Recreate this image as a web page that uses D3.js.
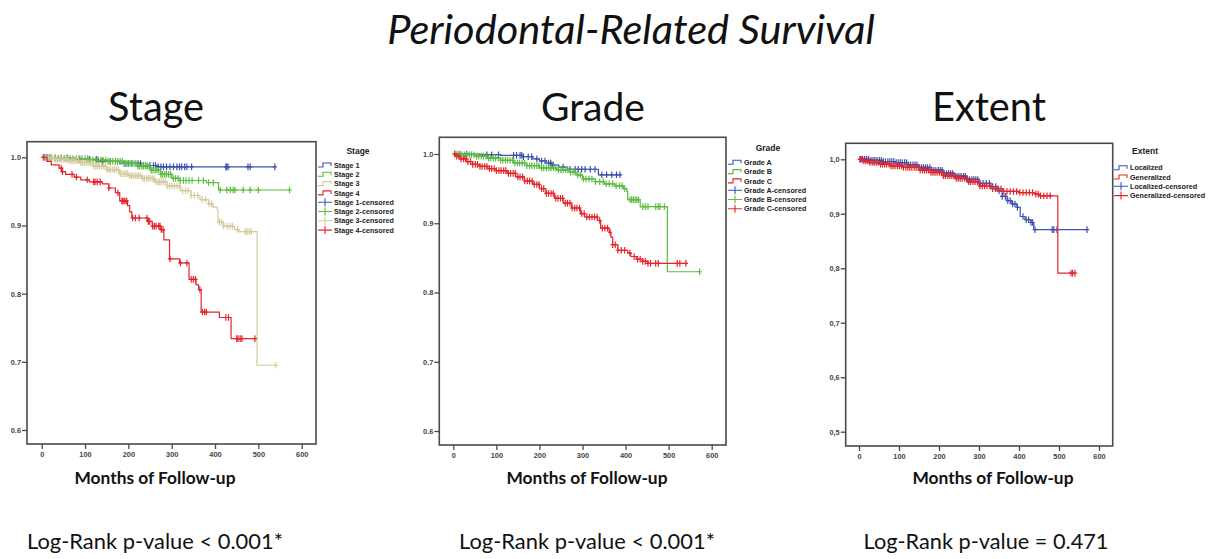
<!DOCTYPE html>
<html>
<head>
<meta charset="utf-8">
<script src="https://cdn.jsdelivr.net/npm/d3@7"></script>
<style>
  html, body { margin: 0; padding: 0; background: #fff; }
  svg { display: block; }
</style>
</head>
<body>
<svg id="chart" width="1215" height="559"></svg>
<script>
'use strict';

// ---- data: Kaplan-Meier steps as [month, survival after step], censored months ----
const months_ticks = [0, 100, 200, 300, 400, 500, 600];

const stage_names = ['Stage 1', 'Stage 2', 'Stage 3', 'Stage 4'];
const stage1_steps = [[25,0.999],[80,0.997],[130,0.994],[180,0.991],[230,0.988],[265,0.986]];
const stage2_steps = [[15,0.999],[60,0.998],[110,0.996],[150,0.994],[190,0.991],[220,0.987],[250,0.981],[275,0.975],[300,0.969],[320,0.966],[380,0.963],[408,0.952]];
const stage3_steps = [[10,0.999],[30,0.997],[60,0.995],[90,0.992],[120,0.987],[150,0.982],[180,0.976],[200,0.973],[230,0.969],[260,0.964],[290,0.958],[320,0.951],[345,0.944],[365,0.938],[385,0.932],[395,0.927],[405,0.922],[407,0.905],[420,0.899],[445,0.894],[455,0.891],[497,0.695]];
const stage4_steps = [[12,0.994],[22,0.989],[40,0.984],[46,0.979],[55,0.975],[75,0.971],[90,0.967],[110,0.964],[140,0.961],[155,0.955],[170,0.948],[180,0.936],[198,0.929],[203,0.920],[208,0.911],[245,0.906],[255,0.899],[275,0.894],[282,0.879],[295,0.851],[318,0.845],[340,0.821],[356,0.813],[362,0.806],[368,0.773],[410,0.765],[437,0.734]];
const stage_ends = [538, 572, 540, 492];
const stage1_censored = [5,12,19,31,45,60,88,110,127,140,158,175,192,200,208,222,228,235,240,250,258,263,269,275,281,288,296,304,312,318,323,330,335,346,425,427,430,476,481,538];
const stage2_censored = [8,15,22,30,38,45,52,58,66,72,80,86,93,100,106,112,118,125,131,137,142,148,153,158,164,170,175,181,186,190,195,199,204,208,213,217,222,226,231,235,240,244,248,253,257,262,266,270,275,279,284,288,293,298,304,309,315,320,327,333,340,347,362,373,385,396,412,427,435,442,446,465,481,500,572];
const stage3_censored = [3,7,11,16,20,24,29,33,37,42,46,51,55,59,63,68,72,77,81,85,90,94,98,103,107,112,116,120,125,129,133,138,142,146,151,155,159,164,168,172,177,181,185,190,194,198,203,207,211,216,220,224,229,233,237,242,246,250,255,259,263,268,272,276,281,285,290,295,300,306,312,318,325,332,338,345,352,360,370,378,386,392,410,415,420,428,434,440,452,470,474,479,484,540];
const stage4_censored = [5,45,48,70,80,105,120,123,128,135,155,176,185,187,190,192,196,210,216,225,243,246,249,256,260,264,270,273,276,280,296,320,335,345,350,355,365,371,376,380,425,431,450,453,458,462,492];

const grade_names = ['Grade A', 'Grade B', 'Grade C'];
const gradeA_steps = [[60,0.999],[110,0.998],[160,0.996],[185,0.993],[200,0.990],[215,0.987],[228,0.984],[245,0.981],[265,0.978],[337,0.970]];
const gradeB_steps = [[20,0.999],[50,0.997],[80,0.994],[110,0.991],[140,0.987],[170,0.983],[200,0.980],[240,0.977],[270,0.974],[285,0.970],[300,0.964],[330,0.960],[350,0.957],[375,0.954],[395,0.950],[403,0.946],[405,0.934],[434,0.924],[497,0.830]];
const gradeC_steps = [[5,0.997],[15,0.993],[30,0.989],[45,0.985],[60,0.982],[80,0.979],[100,0.976],[125,0.972],[145,0.967],[165,0.961],[185,0.956],[200,0.950],[215,0.943],[235,0.936],[255,0.929],[275,0.922],[295,0.914],[305,0.909],[335,0.904],[342,0.893],[362,0.887],[366,0.880],[370,0.869],[382,0.861],[405,0.857],[412,0.852],[425,0.848],[440,0.845],[452,0.842]];
const grade_ends = [390, 572, 542];
const gradeA_censored = [15,31,78,89,105,140,147,155,159,163,174,182,194,205,213,221,226,229,232,255,271,283,290,298,306,318,329,345,356,368,379,387];
const gradeB_censored = [4,9,14,20,26,31,37,42,48,54,59,65,70,76,82,87,93,98,104,110,115,121,126,132,138,143,149,154,160,166,171,177,182,188,194,199,205,210,216,222,227,233,238,244,250,255,261,266,272,278,283,289,295,302,308,315,322,330,340,348,355,362,370,378,386,392,398,410,414,418,422,426,430,440,446,452,470,476,480,490,572];
const gradeC_censored = [3,8,13,18,24,29,34,40,45,51,56,62,67,73,78,84,89,95,100,106,111,117,122,128,133,139,144,150,155,161,166,172,177,183,188,194,199,205,210,216,221,227,232,238,243,249,254,260,265,271,276,282,287,293,298,304,310,316,322,328,334,340,346,352,358,364,370,376,382,390,398,410,420,428,434,440,446,452,458,470,476,520,526,540];

const extent_names = ['Localized', 'Generalized'];
const local_steps = [[30,0.998],[60,0.996],[90,0.994],[120,0.990],[150,0.985],[180,0.980],[210,0.974],[240,0.969],[270,0.963],[300,0.956],[330,0.950],[345,0.942],[358,0.932],[370,0.924],[382,0.918],[395,0.912],[403,0.895],[415,0.889],[430,0.884],[437,0.871]];
const general_steps = [[10,0.997],[25,0.994],[50,0.991],[80,0.988],[110,0.985],[150,0.980],[180,0.976],[210,0.970],[240,0.965],[270,0.959],[300,0.951],[330,0.946],[360,0.941],[400,0.939],[440,0.936],[450,0.933],[497,0.791]];
const extent_ends = [570, 540];
const local_censored = [4,9,14,19,24,30,35,40,45,51,56,61,66,72,77,82,87,93,98,103,108,114,119,124,129,135,140,145,150,156,161,166,171,177,182,187,192,198,203,208,213,219,224,229,234,240,245,250,255,261,266,271,276,282,287,292,297,303,310,318,326,334,342,350,358,366,372,378,384,390,396,410,418,424,430,434,440,483,487,495,570];
const general_censored = [2,7,12,17,22,27,33,38,43,48,54,59,64,69,75,80,85,90,96,101,106,111,117,122,127,132,138,143,148,153,159,164,169,174,180,185,190,195,201,206,211,216,222,227,232,237,243,248,253,258,264,269,274,279,285,290,296,302,308,314,320,327,334,341,348,355,362,370,378,386,394,402,410,418,426,434,442,448,454,462,470,478,530,534,540];

const p_values = ['Log-Rank p-value < 0.001*', 'Log-Rank p-value < 0.001*', 'Log-Rank p-value = 0.471'];

// ---- look ----
const BLUE = '#3d52b0', GREEN = '#5dbb3f', TAN = '#d4cb9c', RED = '#e2262c';
const FRAME = '#4a4a4a';

const panels = [
    { header: 'Stage', names: stage_names, colors: [BLUE, GREEN, TAN, RED],
      steps: [stage1_steps, stage2_steps, stage3_steps, stage4_steps], ends: stage_ends,
      censored: [stage1_censored, stage2_censored, stage3_censored, stage4_censored],
      y_ticks: [0.6, 0.7, 0.8, 0.9, 1.0], comma: false,
      frame: [27, 141.7, 316, 444], x_px: [41.7, 301.7], y_px: [[1.0, 157.3], [0.6, 430]],
      header_x: 156, label_x: 155, p_x: 155, legend: { title_x: 358, title_y: 151, row_y: 165, sym_x: 318 } },
    { header: 'Grade', names: grade_names, colors: [BLUE, GREEN, RED],
      steps: [gradeA_steps, gradeB_steps, gradeC_steps], ends: grade_ends,
      censored: [gradeA_censored, gradeB_censored, gradeC_censored],
      y_ticks: [0.6, 0.7, 0.8, 0.9, 1.0], comma: false,
      frame: [439.3, 137.3, 726, 445], x_px: [453.3, 711.7], y_px: [[1.0, 154], [0.6, 431]],
      header_x: 593, label_x: 587, p_x: 587, legend: { title_x: 768, title_y: 148, row_y: 162.3, sym_x: 728 } },
    { header: 'Extent', names: extent_names, colors: [BLUE, RED],
      steps: [local_steps, general_steps], ends: extent_ends,
      censored: [local_censored, general_censored],
      y_ticks: [0.5, 0.6, 0.7, 0.8, 0.9, 1.0], comma: true,
      frame: [845.7, 143.3, 1112.7, 446], x_px: [859, 1099], y_px: [[1.0, 159.3], [0.5, 431.7]],
      header_x: 989, label_x: 993, p_x: 986, legend: { title_x: 1145, title_y: 150.7, row_y: 167.7, sym_x: 1114 } }
];

const svg = d3.select('#chart');
const CAL = 'Lato, "Open Sans", sans-serif';
const SMALL = '"Liberation Sans", Arial, sans-serif';

// scale a text's font size so it spans the wanted width
const fitWidth = (sel, w) => {
    const len = sel.node().getComputedTextLength();
    sel.attr('font-size', parseFloat(sel.attr('font-size')) * w / len);
};

fitWidth(svg.append('text')
    .attr('x', 631).attr('y', 44)
    .attr('text-anchor', 'middle')
    .attr('font-family', CAL).attr('font-style', 'italic').attr('font-size', 38)
    .attr('fill', '#111')
    .text('Periodontal-Related Survival'), 488);

const survivalAt = (steps, t) => {
    let s = 1;
    for (const [m, v] of steps) { if (m <= t) s = v; else break; }
    return s;
};

panels.forEach((p, pi) => {
    const [fx0, fy0, fx1, fy1] = p.frame;
    const x = d3.scaleLinear().domain([0, 600]).range(p.x_px);
    const y = d3.scaleLinear().domain([p.y_px[0][0], p.y_px[1][0]]).range([p.y_px[0][1], p.y_px[1][1]]);

    const g = svg.append('g');

    // header, axis title, p-value
    fitWidth(g.append('text')
        .attr('x', p.header_x).attr('y', 121).attr('text-anchor', 'middle')
        .attr('font-family', CAL).attr('font-size', 40).attr('fill', '#111')
        .text(p.header), pi === 2 ? 114 : (pi === 1 ? 104 : 96));

    fitWidth(g.append('text')
        .attr('x', p.label_x).attr('y', 484).attr('text-anchor', 'middle')
        .attr('font-family', CAL).attr('font-weight', 'bold').attr('font-size', 16).attr('fill', '#111')
        .text('Months of Follow-up'), 161);

    fitWidth(g.append('text')
        .attr('x', p.p_x).attr('y', 549).attr('text-anchor', 'middle')
        .attr('font-family', CAL).attr('font-size', 24).attr('fill', '#111')
        .text(p_values[pi]), pi === 2 ? 245 : 256);

    // axes
    const fmt = d => p.comma ? d3.format('.1f')(d).replace('.', ',') : d3.format('.1f')(d);
    const y_axis = g.append('g')
        .attr('transform', `translate(${fx0},0)`)
        .call(d3.axisLeft(y).tickValues(p.y_ticks).tickSize(5).tickPadding(1).tickFormat(fmt));
    const x_axis = g.append('g')
        .attr('transform', `translate(0,${fy1})`)
        .call(d3.axisBottom(x).tickValues(months_ticks).tickSize(5).tickPadding(3));
    [y_axis, x_axis].forEach(a => {
        a.select('.domain').remove();
        a.selectAll('line').attr('stroke', FRAME).attr('stroke-width', 1.3);
        a.selectAll('text').attr('font-family', SMALL).attr('font-weight', 'bold')
            .attr('font-size', 7.4).attr('fill', '#444');
    });

    g.append('rect')
        .attr('x', fx0).attr('y', fy0).attr('width', fx1 - fx0).attr('height', fy1 - fy0)
        .attr('fill', 'none').attr('stroke', FRAME).attr('stroke-width', 1.6);

    // curves
    const line = d3.line().x(d => x(d[0])).y(d => y(d[1])).curve(d3.curveStepAfter);
    p.steps.forEach((steps, i) => {
        const pts = [[0, 1], ...steps, [p.ends[i], steps[steps.length - 1][1]]];
        g.append('path')
            .attr('d', line(pts))
            .attr('fill', 'none').attr('stroke', p.colors[i]).attr('stroke-width', 1.2);

        g.append('g').selectAll('path')
            .data(p.censored[i]).enter()
            .append('path')
            .attr('d', t => {
                const cx = x(t), cy = y(survivalAt(steps, t));
                return `M${cx},${cy - 3.3}V${cy + 3.3}M${cx - 2.2},${cy}H${cx + 2.2}`;
            })
            .attr('stroke', p.colors[i]).attr('stroke-width', 1.2).attr('fill', 'none');
    });

    // legend
    const L = p.legend;
    g.append('text')
        .attr('x', L.title_x).attr('y', L.title_y + 3).attr('text-anchor', 'middle')
        .attr('font-family', SMALL).attr('font-weight', 'bold').attr('font-size', 8.5).attr('fill', '#222')
        .text(p.header);

    const entries = [
        ...p.names.map((n, i) => ({ label: n, color: p.colors[i], censored: false })),
        ...p.names.map((n, i) => ({ label: `${n}-censored`, color: p.colors[i], censored: true }))
    ];
    const row = g.append('g').selectAll('g')
        .data(entries).enter()
        .append('g')
        .attr('transform', (d, i) => `translate(${L.sym_x},${L.row_y + i * 9.3})`);
    row.append('path')
        .attr('d', d => d.censored ? 'M0,0H14M7,-4V4' : 'M0,2H5V-2H13V1')
        .attr('fill', 'none').attr('stroke', d => d.color).attr('stroke-width', 1.1);
    row.append('text')
        .attr('x', 16).attr('y', 2.6)
        .attr('font-family', SMALL).attr('font-weight', 'bold').attr('font-size', 7.2).attr('fill', '#222')
        .text(d => d.label);
});
</script>
</body>
</html>
